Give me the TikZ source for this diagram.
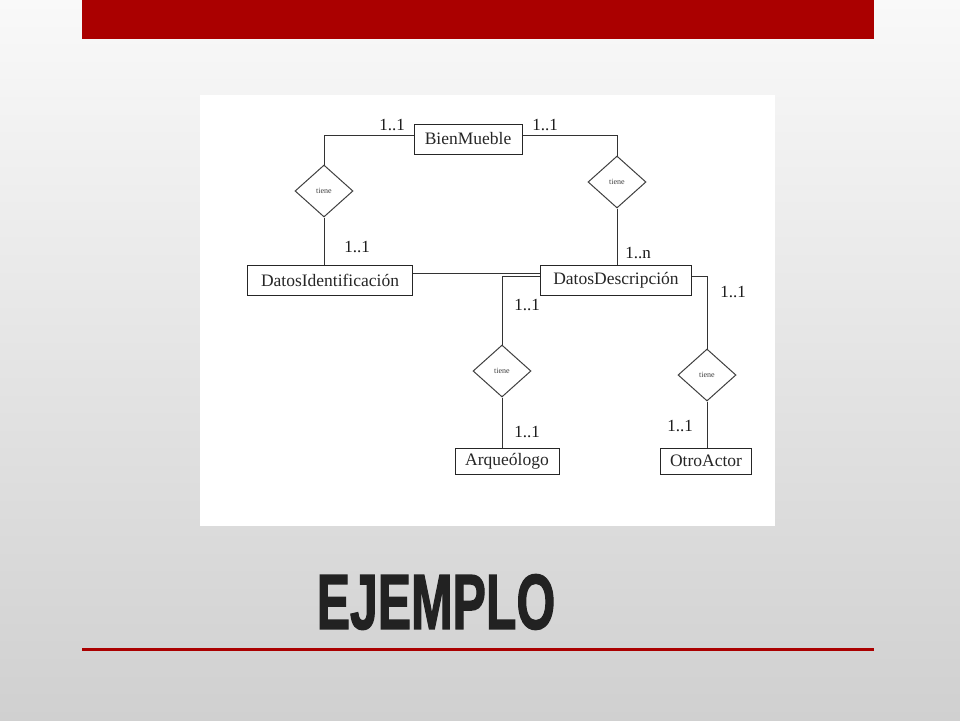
\documentclass[tikz,border=0pt]{standalone}
\usepackage{fontspec}
\setmainfont{Liberation Serif}
\newfontfamily\titlefont[BoldFeatures={FakeBold=2}]{Liberation Sans}
\usetikzlibrary{shapes.geometric}
\definecolor{slidered}{RGB}{170,0,0}
\definecolor{titlegray}{RGB}{34,34,34}
\definecolor{bgtop}{RGB}{249,249,249}
\definecolor{bgbottom}{RGB}{208,208,208}

\begin{document}
\begin{tikzpicture}[x=1pt,y=-1pt]
      \tikzstyle{entity}=[draw, rectangle, inner sep=0pt, minimum height=30pt,
        font=\fontsize{17.5}{18}\selectfont, line width=1pt, color=black!85];
      \tikzstyle{relation}=[draw, diamond, inner sep=0pt, minimum width=58pt,
        minimum height=52pt, font=\fontsize{8}{9}\selectfont, line width=1pt,
        color=black!75];
      \tikzstyle{card}=[inner sep=0pt, font=\fontsize{17}{18}\selectfont, color=black!90];
      \tikzstyle{link}=[line width=1pt, color=black!80];
      \useasboundingbox (0,0) rectangle (960,720);
      \shade[top color=bgtop, bottom color=bgbottom] (0,0) rectangle (960,720);
      \fill[slidered] (82,0) rectangle (874,39);
      \fill[white] (200,95) rectangle (775,526);
      \draw (468,139) node[style=entity, minimum width=108pt] (bien) {BienMueble};
      \draw (330,280) node[style=entity, minimum width=165pt] (ident) {DatosIdentificación};
      \draw (616,280) node[style=entity, minimum width=151pt] (desc) {DatosDescripción};
      \draw (507,461) node[style=entity, minimum width=104pt, minimum height=26pt] (arq) {Arqueólogo};
      \draw (706,461) node[style=entity, minimum width=91pt, minimum height=26pt] (otro) {OtroActor};
      \draw (324,191) node[style=relation] (tieneA) {tiene};
      \draw (617,182) node[style=relation] (tieneB) {tiene};
      \draw (502,371) node[style=relation] (tieneC) {tiene};
      \draw (707,375) node[style=relation] (tieneD) {tiene};
      \draw[style=link] ([yshift=4pt]bien.west) -| (tieneA.north);
      \draw[style=link] (tieneA.south) -- (tieneA.south |- ident.north);
      \draw[style=link] ([yshift=4pt]bien.east) -| (tieneB.north);
      \draw[style=link] (tieneB.south) -- (tieneB.south |- desc.north);
      \draw[style=link] ([yshift=7pt]ident.east) -- ([yshift=7pt]desc.west);
      \draw[style=link] ([yshift=4pt]desc.west) -| (tieneC.north);
      \draw[style=link] (tieneC.south) -- (tieneC.south |- arq.north);
      \draw[style=link] ([yshift=4pt]desc.east) -| (tieneD.north);
      \draw[style=link] (tieneD.south) -- (tieneD.south |- otro.north);
      \draw (392,125) node[style=card] (cardA) {1..1};
      \draw (545,125) node[style=card] (cardB) {1..1};
      \draw (357,247) node[style=card] (cardC) {1..1};
      \draw (638,253) node[style=card] (cardD) {1..n};
      \draw (527,305) node[style=card] (cardE) {1..1};
      \draw (527,432) node[style=card] (cardF) {1..1};
      \draw (733,292) node[style=card] (cardG) {1..1};
      \draw (680,426) node[style=card] (cardH) {1..1};
      \draw (436,602) node[color=titlegray, inner sep=0pt, xscale=0.64,
        font=\titlefont\bfseries\fontsize{78}{80}\selectfont] (title) {EJEMPLO};
      \draw[slidered, line width=3pt] (82,649) -- (874,649);
    \end{tikzpicture}
\end{document}
